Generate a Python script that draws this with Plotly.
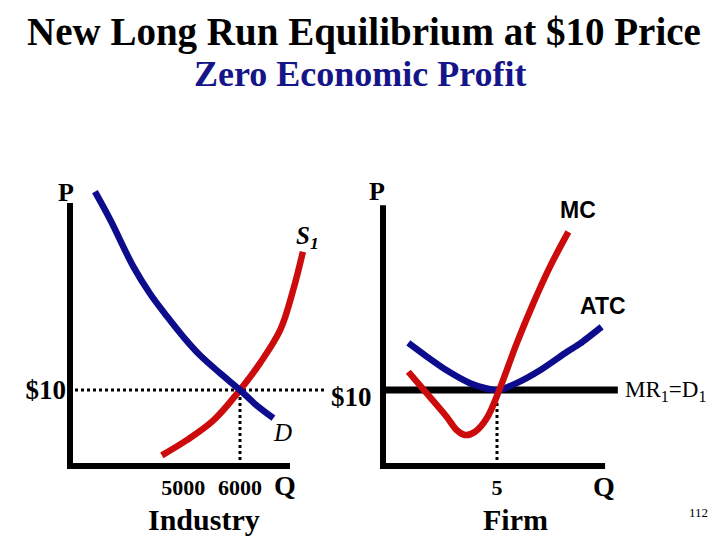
import plotly.graph_objects as go

# industry market (left panel)
demand_q = [3440, 3710, 4120, 4410, 4710, 5000, 5290, 5650, 6000, 6290, 6590]
demand_p = [36.1, 32.4, 26.2, 22.7, 19.7, 17.0, 14.6, 12.2, 10.0, 8.0, 6.3]
supply_q = [4620, 5060, 5530, 6000, 6350, 6710, 6940, 7110]
supply_p = [1.4, 3.4, 6.0, 10.0, 13.5, 17.9, 23.2, 28.2]
industry_ticks = [5000, 6000]

# firm (right panel)
mc_q = [1.11, 1.92, 2.79, 3.23, 3.60, 4.04, 4.55, 5.10, 5.86, 6.59, 7.32, 8.13]
mc_p = [12.4, 9.56, 6.49, 4.74, 4.08, 4.51, 6.28, 10.0, 16.1, 21.4, 26.2, 30.8]
atc_q = [1.11, 1.92, 2.79, 3.82, 4.55, 5.10, 5.86, 6.89, 8.06, 8.64, 9.59]
atc_p = [16.2, 14.4, 12.6, 10.9, 10.2, 10.0, 10.9, 12.6, 15.0, 16.1, 18.3]
mr_q = [0, 10.3]
firm_ticks = [5]

price = 10
eq_industry_q = 6000
eq_firm_q = 5

RED = "#cc0c0c"
BLUE = "#0c0c8c"
SERIF = "Times New Roman, Liberation Serif, serif"
SANS = "Arial, Liberation Sans, sans-serif"

# the page body adds an 8px margin, so shift everything up-left
OFF = 8


def px(x):
    return (x - OFF) / 720


def py(y):
    return 1 - (y - OFF) / 540


fig = go.Figure()

# left panel
fig.add_trace(go.Scatter(x=[3088, 7500], y=[price, price], mode="lines",
                         line=dict(color="black", width=3, dash="dot"),
                         xaxis="x", yaxis="y"))
fig.add_trace(go.Scatter(x=[eq_industry_q, eq_industry_q], y=[0, price], mode="lines",
                         line=dict(color="black", width=3, dash="dot"),
                         xaxis="x", yaxis="y"))
fig.add_trace(go.Scatter(x=supply_q, y=supply_p, mode="lines", line_shape="spline",
                         line=dict(color=RED, width=6.5), xaxis="x", yaxis="y"))
fig.add_trace(go.Scatter(x=demand_q, y=demand_p, mode="lines", line_shape="spline",
                         line=dict(color=BLUE, width=6.5), xaxis="x", yaxis="y"))

# right panel
fig.add_trace(go.Scatter(x=[eq_firm_q, eq_firm_q], y=[0, price], mode="lines",
                         line=dict(color="black", width=3, dash="dot"),
                         xaxis="x2", yaxis="y2"))
fig.add_trace(go.Scatter(x=mr_q, y=[price, price], mode="lines",
                         line=dict(color="black", width=7), xaxis="x2", yaxis="y2"))
fig.add_trace(go.Scatter(x=atc_q, y=atc_p, mode="lines", line_shape="spline",
                         line=dict(color=BLUE, width=6.5, smoothing=0.7),
                         xaxis="x2", yaxis="y2"))
fig.add_trace(go.Scatter(x=mc_q, y=mc_p, mode="lines", line_shape="spline",
                         line=dict(color=RED, width=6.5), xaxis="x2", yaxis="y2"))

# axes lines as shapes
ax = dict(color="black", width=6)
fig.add_shape(type="line", xref="x", yref="y", x0=3000, x1=3000, y0=-0.4, y1=34.6, line=ax, layer="below")
fig.add_shape(type="line", xref="x", yref="y", x0=2947, x1=6882, y0=0, y1=0, line=ax, layer="below")
fig.add_shape(type="line", xref="x2", yref="y2", x0=0, x1=0, y0=-0.4, y1=34.3, line=ax, layer="below")
fig.add_shape(type="line", xref="x2", yref="y2", x0=-0.13, x1=9.74, y0=0, y1=0, line=ax, layer="below")

tickfont = dict(family=SERIF, size=22, color="black")
ydom = [py(469), py(185)]
yrange = [-0.395, 36.97]
fig.update_layout(
    width=720, height=540, margin=dict(l=0, r=0, t=0, b=0),
    paper_bgcolor="white", plot_bgcolor="white", showlegend=False,
    xaxis=dict(domain=[px(67), px(330)], range=[2947, 7588], showgrid=False, zeroline=False,
               tickvals=industry_ticks, ticktext=["<b>%d</b>" % t for t in industry_ticks],
               ticks="", tickfont=tickfont, ticklabelstandoff=3),
    yaxis=dict(domain=ydom, range=yrange, showgrid=False, zeroline=False,
               tickvals=[price], ticktext=["<b>$10</b>"], ticks="",
               tickfont=dict(family=SERIF, size=27, color="black")),
    xaxis2=dict(domain=[px(380), px(625)], range=[-0.1316, 10.614], showgrid=False, zeroline=False,
                tickvals=firm_ticks, ticktext=["<b>%d</b>" % t for t in firm_ticks],
                ticks="", tickfont=tickfont, ticklabelstandoff=3, anchor="y2"),
    yaxis2=dict(domain=ydom, range=yrange, showgrid=False, zeroline=False,
                showticklabels=False, anchor="x2"),
)

labels = [
    ("<b>New Long Run Equilibrium at $10 Price</b>", 364, 32, SERIF, 39, "black"),
    ("<b>Zero Economic Profit</b>", 360, 74, SERIF, 36, "#151589"),
    ("<b>P</b>", 66, 192, SERIF, 26, "black"),
    ("<b>P</b>", 377, 191, SERIF, 26, "black"),
    ("<b><i>S<sub>1</sub></i></b>", 307, 237, SERIF, 25, "black"),
    ("<i>D</i>", 282, 432, SERIF, 25, "black"),
    ("<b>Q</b>", 285, 485, SERIF, 28, "black"),
    ("<b>Q</b>", 604, 486, SERIF, 28, "black"),
    ("<b>Industry</b>", 204, 519, SERIF, 30, "black"),
    ("<b>Firm</b>", 515, 519, SERIF, 30, "black"),
    ("<b>$10</b>", 351, 397, SERIF, 27, "black"),
    ("<b>MC</b>", 578, 210, SANS, 23, "black"),
    ("<b>ATC</b>", 603, 306, SANS, 23, "black"),
    ("MR<sub>1</sub>=D<sub>1</sub>", 665, 391, SERIF, 23, "black"),
    ("112", 698, 512, SERIF, 13, "black"),
]
for text, x, y, fam, size, color in labels:
    fig.add_annotation(text=text, x=px(x), y=py(y), xref="paper", yref="paper",
                       showarrow=False, xanchor="center", yanchor="middle",
                       font=dict(family=fam, size=size, color=color))

fig.write_html("out.html")
